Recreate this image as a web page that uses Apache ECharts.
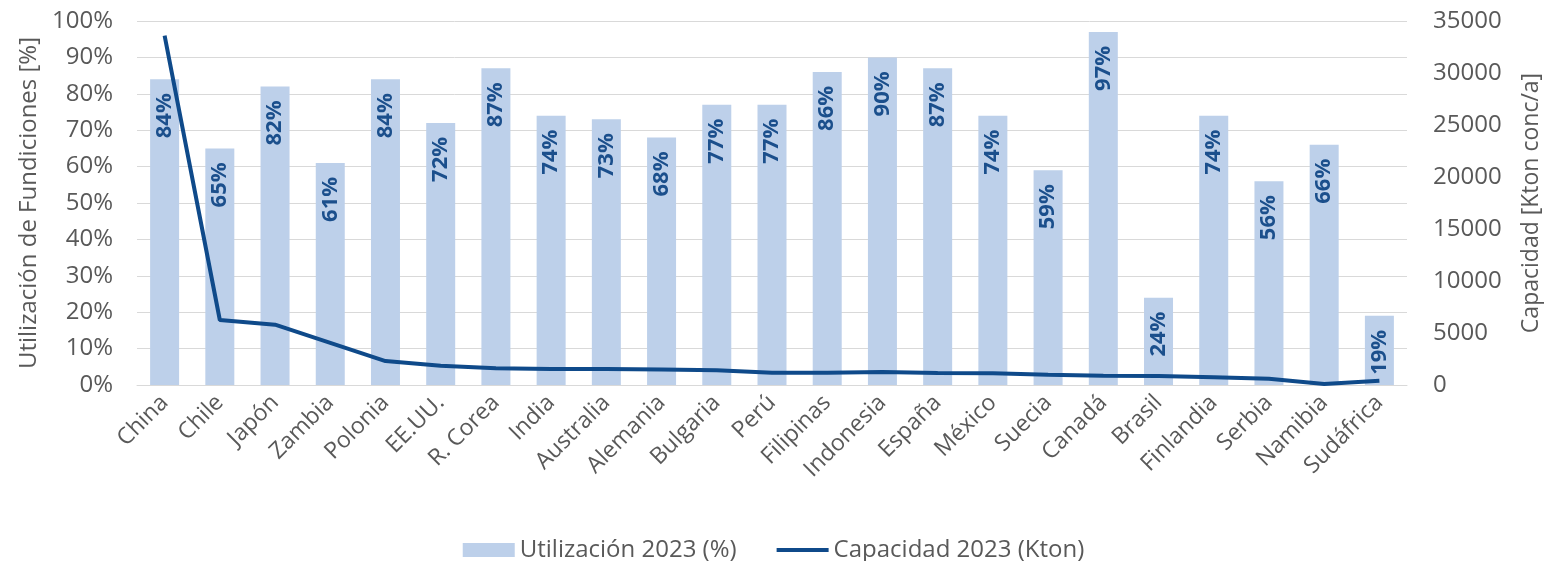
<!DOCTYPE html>
<html>
<head>
<meta charset="utf-8">
<script src="https://cdn.jsdelivr.net/npm/echarts@6/dist/echarts.min.js"></script>
<style>
  html, body { margin: 0; padding: 0; background: #fff; }
  #chart { width: 1547px; height: 561px; }
</style>
</head>
<body>
<div id="chart"></div>
<script>
var paises = ['China', 'Chile', 'Japón', 'Zambia', 'Polonia', 'EE.UU.', 'R. Corea', 'India',
  'Australia', 'Alemania', 'Bulgaria', 'Perú', 'Filipinas', 'Indonesia', 'España', 'México',
  'Suecia', 'Canadá', 'Brasil', 'Finlandia', 'Serbia', 'Namibia', 'Sudáfrica'];

// Utilización 2023 (%)
var utilizacion = [84, 65, 82, 61, 84, 72, 87, 74, 73, 68, 77, 77, 86, 90, 87, 74, 59, 97, 24, 74, 56, 66, 19];

// Capacidad 2023 (Kton conc/a)
var capacidad = [33600, 6250, 5800, 4050, 2300, 1850, 1600, 1550, 1550, 1500, 1430, 1180, 1180, 1250,
  1150, 1120, 990, 900, 870, 740, 600, 100, 420];

var ticksPct = [0, 10, 20, 30, 40, 50, 60, 70, 80, 90, 100];
var ticksCap = [0, 5000, 10000, 15000, 20000, 25000, 30000, 35000];

var fuente = 'Open Sans';
var gris = '#595959';

var chart = echarts.init(document.getElementById('chart'));

var option = {
  animation: false,
  textStyle: { fontFamily: fuente },
  grid: { left: 137, right: 140, top: 21, bottom: 176, outerBoundsMode: 'none' },
  legend: {
    top: 533,
    left: 'center',
    itemWidth: 52,
    itemHeight: 14,
    itemGap: 40,
    textStyle: { color: gris, fontSize: 24, fontFamily: fuente },
    data: [
      { name: 'Utilización 2023 (%)', icon: 'rect' },
      { name: 'Capacidad 2023 (Kton)', icon: 'path://M0,0 L52,0 L52,4 L0,4 Z' }
    ]
  },
  xAxis: {
    type: 'category',
    data: paises,
    axisLine: { lineStyle: { color: '#d9d9d9', width: 1 } },
    axisTick: { show: false },
    axisLabel: {
      rotate: 45,
      interval: 0,
      color: gris,
      fontSize: 23,
      margin: 14
    }
  },
  yAxis: [
    {
      type: 'value',
      min: ticksPct[0],
      max: ticksPct[ticksPct.length - 1],
      interval: 10,
      name: 'Utilización de Fundiciones [%]',
      nameLocation: 'middle',
      nameRotate: 90,
      nameGap: 95,
      nameTextStyle: { color: gris, fontSize: 24 },
      axisLine: { show: false },
      axisTick: { show: false },
      splitLine: { lineStyle: { color: '#d9d9d9', width: 1 } },
      axisLabel: { color: gris, fontSize: 24, margin: 24, formatter: '{value}%' }
    },
    {
      type: 'value',
      min: ticksCap[0],
      max: ticksCap[ticksCap.length - 1],
      interval: 5000,
      position: 'right',
      name: 'Capacidad [Kton conc/a]',
      nameLocation: 'middle',
      nameRotate: 90,
      nameGap: 113,
      nameTextStyle: { color: gris, fontSize: 23 },
      axisLine: { show: false },
      axisTick: { show: false },
      splitLine: { show: false },
      axisLabel: {
        color: gris,
        fontSize: 24,
        margin: 26,
        formatter: function (v) { return String(v); }
      }
    }
  ],
  series: [
    {
      name: 'Utilización 2023 (%)',
      type: 'bar',
      data: utilizacion,
      barWidth: 29,
      itemStyle: { color: '#bdd0ea' },
      label: {
        show: true,
        position: 'insideTop',
        rotate: 90,
        align: 'right',
        verticalAlign: 'middle',
        distance: 14,
        color: '#1b4f8c',
        fontWeight: 'bold',
        fontSize: 22,
        formatter: '{c}%'
      },
      z: 1
    },
    {
      name: 'Capacidad 2023 (Kton)',
      type: 'line',
      yAxisIndex: 1,
      data: capacidad,
      symbol: 'none',
      lineStyle: { color: '#0f4a8a', width: 4 },
      itemStyle: { color: '#0f4a8a' },
      z: 3
    }
  ]
};

chart.setOption(option);
window.addEventListener('resize', chart.resize);
</script>
</body>
</html>
